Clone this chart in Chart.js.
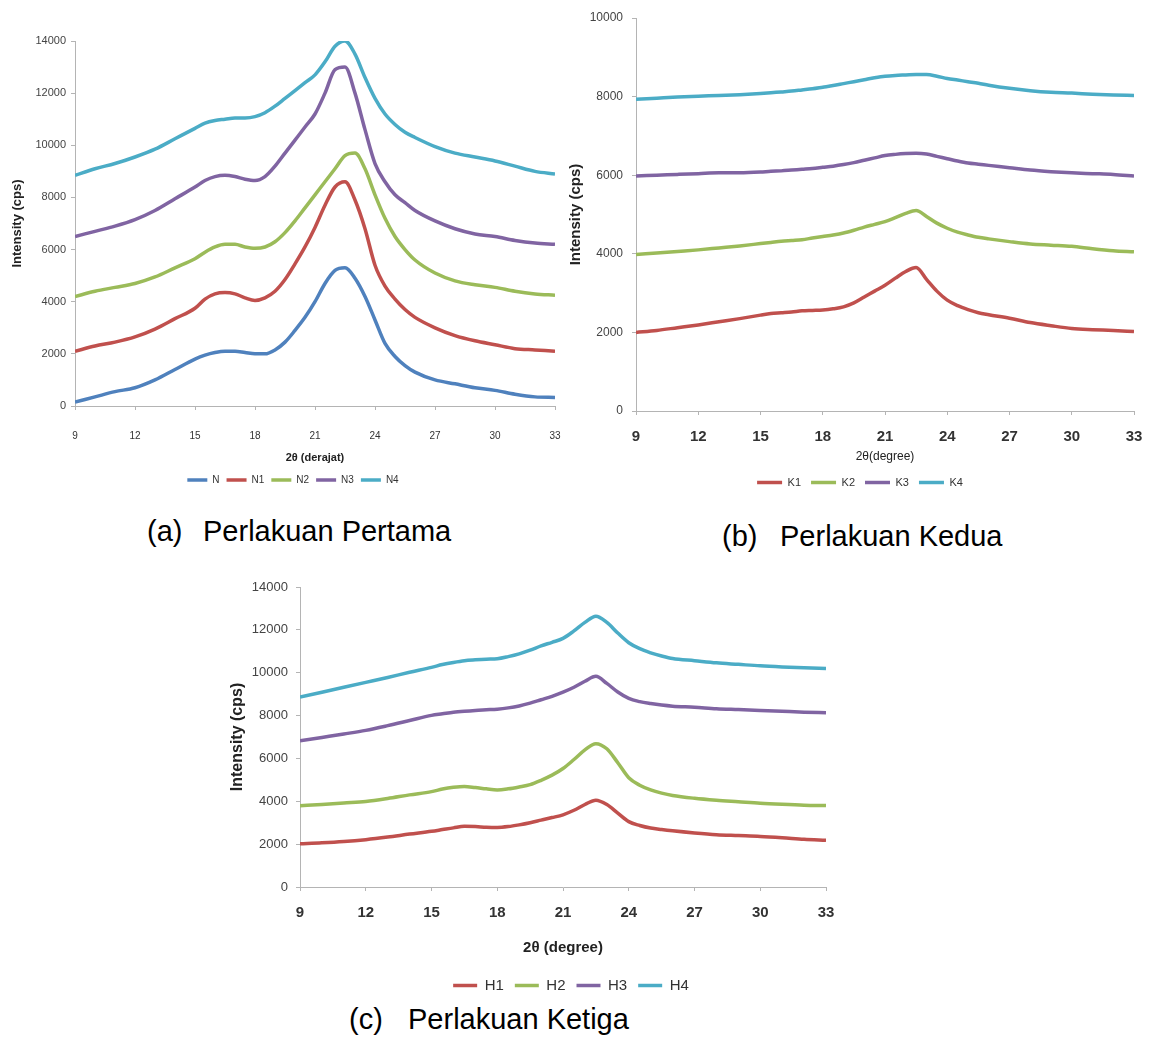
<!DOCTYPE html>
<html>
<head>
<meta charset="utf-8">
<script src="https://cdn.jsdelivr.net/npm/chart.js@4.4.1/dist/chart.umd.min.js"></script>
<style>
  html, body { margin: 0; padding: 0; background: #ffffff; }
  #page { position: relative; width: 1152px; height: 1039px; overflow: hidden; background: #fff; }
  canvas { position: absolute; }
  .cap { position: absolute; font-family: "Liberation Sans", Arial, sans-serif; font-size: 29px; color: #000; white-space: pre; line-height: 1; }
</style>
</head>
<body>
<div id="page">
  <canvas id="chartA" width="575" height="495" style="left:0px;top:0px;"></canvas>
  <canvas id="chartB" width="592" height="498" style="left:560px;top:0px;"></canvas>
  <canvas id="chartC" width="620" height="436" style="left:220px;top:567px;"></canvas>
  <div class="cap" style="left:147px;top:517px;">(a)</div>
  <div class="cap" style="left:203px;top:517px;">Perlakuan Pertama</div>
  <div class="cap" style="left:722px;top:522px;">(b)</div>
  <div class="cap" style="left:780px;top:522px;">Perlakuan Kedua</div>
  <div class="cap" style="left:349px;top:1005px;">(c)</div>
  <div class="cap" style="left:408px;top:1005px;">Perlakuan Ketiga</div>
</div>
<script>
// ---------- DATA ----------
const twoTheta = [9,10,11,12,13,14,15,15.5,16,16.5,17,17.5,18,18.5,19,19.5,20,20.5,21,21.5,22,22.5,23,23.5,24,24.5,25,25.5,26,27,28,29,30,31,32,33];
const xTicks = [9,12,15,18,21,24,27,30,33];

// (a) Perlakuan Pertama
const labelsA = ["N","N1","N2","N3","N4"];
const seriesN  = [150,350,550,700,1000,1400,1800,1950,2050,2100,2100,2050,2000,2000,2150,2450,2900,3400,4000,4700,5200,5300,4900,4200,3300,2400,1900,1550,1300,1000,850,700,600,450,350,330];
const seriesN1 = [2100,2300,2450,2650,2950,3350,3750,4100,4300,4350,4300,4150,4050,4150,4400,4850,5450,6100,6850,7700,8400,8600,7900,6800,5400,4600,4100,3700,3400,3000,2700,2500,2350,2200,2150,2100];
const seriesN2 = [4200,4400,4550,4700,4950,5300,5650,5900,6100,6200,6200,6100,6050,6100,6300,6650,7100,7600,8100,8600,9100,9600,9700,9100,8100,7200,6500,6000,5600,5100,4800,4650,4550,4400,4300,4250];
const seriesN3 = [6500,6700,6900,7150,7500,7950,8400,8650,8800,8850,8800,8700,8650,8800,9200,9700,10200,10700,11200,12000,12900,13000,12000,10600,9300,8600,8100,7800,7500,7100,6800,6600,6500,6350,6250,6200];
const seriesN4 = [8850,9100,9300,9550,9850,10250,10650,10850,10950,11000,11050,11050,11100,11250,11500,11800,12100,12400,12700,13200,13800,14000,13500,12600,11800,11200,10800,10500,10300,9950,9700,9550,9400,9200,9000,8900];

// (b) Perlakuan Kedua
const labelsB = ["K1","K2","K3","K4"];
const seriesK1 = [2000,2050,2120,2190,2270,2350,2440,2480,2500,2520,2550,2560,2570,2600,2650,2750,2900,3050,3200,3380,3550,3650,3350,3050,2820,2680,2580,2500,2450,2360,2250,2170,2100,2070,2050,2020];
const seriesK2 = [3980,4020,4060,4100,4150,4200,4260,4290,4320,4340,4360,4400,4440,4480,4530,4600,4680,4750,4820,4920,5030,5100,4950,4780,4650,4550,4480,4420,4380,4310,4250,4220,4190,4130,4080,4050];
const seriesK3 = [5980,6000,6020,6040,6060,6060,6080,6100,6110,6130,6150,6170,6200,6230,6270,6320,6380,6440,6500,6530,6550,6560,6540,6480,6420,6360,6310,6280,6250,6190,6130,6090,6060,6040,6020,5980];
const seriesK4 = [7930,7960,7990,8010,8030,8050,8080,8100,8120,8140,8170,8200,8240,8280,8330,8380,8430,8480,8520,8540,8550,8560,8560,8520,8460,8420,8380,8340,8290,8210,8150,8110,8090,8060,8040,8030];

// (c) Perlakuan Ketiga
const labelsC = ["H1","H2","H3","H4"];
const seriesH1 = [2020,2060,2120,2210,2330,2470,2600,2680,2760,2830,2820,2790,2780,2820,2900,3000,3120,3240,3370,3580,3850,4050,3850,3450,3050,2870,2750,2680,2620,2520,2440,2400,2360,2300,2230,2180];
const seriesH2 = [3790,3850,3920,3990,4130,4300,4450,4570,4650,4690,4640,4580,4530,4580,4670,4780,4980,5220,5530,5950,6400,6690,6450,5800,5100,4750,4530,4380,4270,4140,4050,3980,3910,3860,3820,3800];
const seriesH3 = [6820,6980,7140,7310,7530,7770,8010,8080,8150,8200,8240,8270,8300,8360,8450,8580,8740,8900,9090,9320,9600,9830,9500,9100,8800,8650,8560,8490,8440,8390,8320,8280,8240,8200,8160,8130];
const seriesH4 = [8860,9090,9320,9550,9780,10020,10250,10380,10480,10560,10600,10630,10650,10750,10880,11050,11250,11420,11600,11950,12350,12640,12350,11850,11400,11120,10930,10780,10660,10560,10460,10390,10320,10270,10230,10200];

// ---------- STYLE ----------
const COL = { blue:"#4F81BD", red:"#C0504D", green:"#9BBB59", purple:"#8064A2", cyan:"#4BACC6" };
const FONT = '"Liberation Sans", Arial, sans-serif';
const AXIS = "#b4b4b4";

function ds(label, values, color, width) {
  return {
    label: label,
    data: twoTheta.map((x, i) => ({ x: x, y: values[i] })),
    borderColor: color,
    backgroundColor: color,
    borderWidth: width,
    pointRadius: 0,
    cubicInterpolationMode: 'monotone',
    fill: false
  };
}

// shifts the (non full-size) legend horizontally after layout
const legendShift = {
  id: 'legendShift',
  afterLayout(chart, args, opts) {
    const l = chart.legend;
    if (l && opts && opts.dx) { l.left += opts.dx; l.right += opts.dx; }
  }
};

function makeChart(id, datasets, cfg) {
  return new Chart(document.getElementById(id), {
    type: 'line',
    data: { datasets: datasets },
    plugins: [legendShift],
    options: {
      responsive: false,
      animation: false,
      devicePixelRatio: 1,
      layout: { padding: cfg.padding },
      plugins: {
        tooltip: { enabled: false },
        legendShift: { dx: cfg.legendDx },
        legend: {
          position: 'bottom',
          fullSize: false,
          labels: {
            usePointStyle: true,
            pointStyle: 'line',
            pointStyleWidth: cfg.legendLine,
            padding: cfg.legendPad,
            color: '#333',
            font: { family: FONT, size: cfg.legendSize }
          }
        }
      },
      scales: {
        x: {
          type: 'linear',
          min: 9, max: 33,
          afterBuildTicks: (s) => { s.ticks = xTicks.map(v => ({ value: v })); },
          afterFit: (s) => { s.height = cfg.xHeight; s.paddingLeft = 0; s.paddingRight = 0; },
          border: { color: AXIS, width: 1 },
          grid: { drawOnChartArea: false, drawTicks: true, tickLength: 4, color: AXIS },
          ticks: {
            padding: cfg.xTickPad,
            color: '#333',
            maxRotation: 0,
            callback: (v) => String(v),
            font: { family: FONT, size: cfg.xTickSize, weight: cfg.xTickWeight }
          },
          title: {
            display: true,
            text: cfg.xTitle,
            color: '#222',
            padding: { top: 0, bottom: cfg.xTitlePadB },
            font: { family: FONT, size: cfg.xTitleSize, weight: cfg.xTitleWeight }
          }
        },
        y: {
          min: 0, max: cfg.yMax,
          ticks: {
            stepSize: 2000,
            padding: cfg.yTickPad,
            color: '#444',
            callback: (v) => String(v),
            font: { family: FONT, size: cfg.yTickSize }
          },
          afterFit: (s) => { s.width = cfg.yWidth; s.paddingTop = 0; s.paddingBottom = 0; },
          border: { color: AXIS, width: 1 },
          grid: { drawOnChartArea: false, drawTicks: true, tickLength: 4, color: AXIS },
          title: {
            display: true,
            text: 'Intensity (cps)',
            color: '#222',
            padding: { top: cfg.yTitlePad, bottom: 0 },
            font: { family: FONT, size: cfg.yTitleSize, weight: 'bold' }
          }
        }
      }
    }
  });
}

makeChart('chartA', [
  ds(labelsA[0], seriesN,  COL.blue,   3.5),
  ds(labelsA[1], seriesN1, COL.red,    3.5),
  ds(labelsA[2], seriesN2, COL.green,  3.5),
  ds(labelsA[3], seriesN3, COL.purple, 3.5),
  ds(labelsA[4], seriesN4, COL.cyan,   3.5)
], {
  padding: { top: 41, left: 0, right: 20, bottom: 0 },
  yMax: 14000, yWidth: 75, yTickPad: 5, yTickSize: 11, yTitlePad: 10, yTitleSize: 13,
  xHeight: 62, xTickPad: 20, xTickSize: 10, xTickWeight: 'normal',
  xTitle: '2θ (derajat)', xTitlePadB: 3, xTitleSize: 11, xTitleWeight: 'bold',
  legendPad: 7, legendSize: 10, legendLine: 20, legendDx: -22
});

makeChart('chartB', [
  ds(labelsB[0], seriesK1, COL.red,    3.5),
  ds(labelsB[1], seriesK2, COL.green,  3.5),
  ds(labelsB[2], seriesK3, COL.purple, 3.5),
  ds(labelsB[3], seriesK4, COL.cyan,   3.5)
], {
  padding: { top: 18, left: 0, right: 18, bottom: 0 },
  yMax: 10000, yWidth: 76, yTickPad: 9, yTickSize: 12, yTitlePad: 7, yTitleSize: 15,
  xHeight: 56, xTickPad: 13, xTickSize: 15, xTickWeight: 'bold',
  xTitle: '2θ(degree)', xTitlePadB: 3, xTitleSize: 12, xTitleWeight: 'normal',
  legendPad: 10, legendSize: 11, legendLine: 25, legendDx: -25
});

makeChart('chartC', [
  ds(labelsC[0], seriesH1, COL.red,    3.5),
  ds(labelsC[1], seriesH2, COL.green,  3.5),
  ds(labelsC[2], seriesH3, COL.purple, 3.5),
  ds(labelsC[3], seriesH4, COL.cyan,   3.5)
], {
  padding: { top: 20, left: 0, right: 14, bottom: 0 },
  yMax: 14000, yWidth: 80, yTickPad: 8, yTickSize: 13, yTitlePad: 8, yTitleSize: 16,
  xHeight: 80, xTickPad: 13, xTickSize: 15, xTickWeight: 'bold',
  xTitle: '2θ (degree)', xTitlePadB: 10, xTitleSize: 15, xTitleWeight: 'bold',
  legendPad: 11, legendSize: 15, legendLine: 24, legendDx: 8
});
</script>
</body>
</html>
